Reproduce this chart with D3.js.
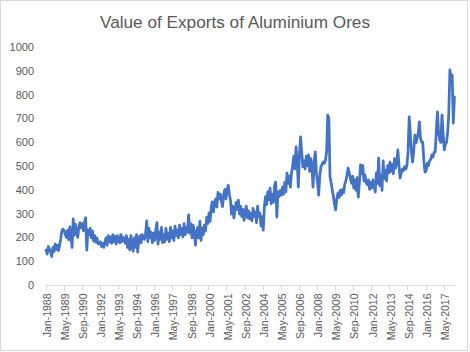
<!DOCTYPE html>
<html lang="en">
<head>
<meta charset="UTF-8">
<title>Value of Exports of Aluminium Ores</title>
<script src="https://d3js.org/d3.v7.min.js"></script>
<style>
  body { margin: 0; background: #fff; }
  text { font-family: "Liberation Sans", Arial, sans-serif; fill: #595959; }
</style>
</head>
<body>
<svg id="chart" width="470" height="352"></svg>
<script>
// monthly categories: Jan-1988 .. Feb-2018
const startYear = 1988;
const monthNames = ["Jan","Feb","Mar","Apr","May","Jun","Jul","Aug","Sep","Oct","Nov","Dec"];

// values, one row per year
const exports1988_1997 = [
  147, 130, 162, 150, 138, 120, 158, 140, 172, 150, 168, 145,
  168, 195, 228, 235, 230, 212, 200, 230, 190, 245, 200, 158,
  278, 210, 255, 225, 200, 245, 262, 240, 258, 228, 265, 283,
  147, 232, 212, 238, 198, 228, 185, 208, 180, 198, 172, 178,
  182, 162, 175, 158, 180, 198, 168, 208, 182, 202, 175, 212,
  182, 205, 172, 208, 188, 178, 212, 182, 202, 192, 175, 208,
  158, 192, 148, 208, 172, 142, 198, 158, 212, 138, 188, 208,
  178, 212, 198, 192, 218, 270, 182, 238, 198, 222, 178, 218,
  188, 232, 262, 172, 222, 192, 242, 178, 212, 182, 238, 192,
  218, 182, 242, 198, 228, 188, 248, 208, 232, 198, 252, 212
];
const exports1998_2007 = [
  238, 202, 258, 212, 242, 222, 295, 218, 258, 198, 252, 228,
  168, 218, 242, 198, 268, 188, 238, 212, 252, 228, 285, 258,
  302, 268, 328, 350, 308, 348, 362, 328, 390, 362, 382, 352,
  330, 382, 402, 362, 398, 420, 382, 358, 298, 332, 282, 312,
  348, 318, 357, 298, 332, 288, 318, 272, 308, 332, 282, 312,
  278, 302, 270, 322, 288, 308, 262, 332, 288, 302, 248, 288,
  231, 332, 372, 338, 392, 358, 408, 342, 382, 348, 418, 433,
  286, 392, 372, 398, 378, 412, 382, 432, 392, 471, 428, 458,
  412, 472, 502, 542, 488, 581, 518, 412, 552, 623, 558, 497,
  522, 488, 542, 502, 547, 478, 532, 498, 412, 522, 560, 468
];
const exports2008_2018 = [
  430, 378, 462, 497, 508, 518, 512, 525, 560, 715, 702, 455,
  430, 400, 372, 340, 316, 362, 387, 368, 398, 378, 402, 388,
  422, 438, 462, 492, 472, 448, 428, 458, 408, 442, 398, 452,
  370, 432, 505, 468, 502, 438, 462, 430, 422, 442, 402, 432,
  408, 442, 418, 391, 472, 428, 534, 418, 462, 398, 522, 448,
  482, 438, 502, 472, 517, 478, 508, 468, 532, 492, 512, 568,
  502, 450, 472, 488, 482, 498, 488, 502, 560, 707, 640, 558,
  517, 562, 631, 598, 618, 638, 686, 618, 602, 600, 520, 475,
  480, 512, 502, 522, 528, 547, 538, 558, 560, 650, 728, 640,
  610, 600, 715, 638, 568, 592, 600, 642, 720, 905, 870, 883,
  681, 791
];
const yTicks = [0, 100, 200, 300, 400, 500, 600, 700, 800, 900, 1000];
const tickLabels = ["Jan-1988","May-1989","Sep-1990","Jan-1992","May-1993","Sep-1994",
  "Jan-1996","May-1997","Sep-1998","Jan-2000","May-2001","Sep-2002","Jan-2004",
  "May-2005","Sep-2006","Jan-2008","May-2009","Sep-2010","Jan-2012","May-2013",
  "Sep-2014","Jan-2016","May-2017"];

const values = exports1988_1997.concat(exports1998_2007, exports2008_2018);
const categories = values.map((v, i) =>
  monthNames[i % 12] + "-" + (startYear + Math.floor(i / 12)));
const data = values.map((v, i) => ({cat: categories[i], value: v, i: i}));

const svg = d3.select("#chart");
const plot = {left: 45.5, right: 455, top: 47.3, bottom: 285};

// chart border
svg.append("rect")
  .attr("x", 0.5).attr("y", 0.5)
  .attr("width", 467).attr("height", 350)
  .attr("fill", "#fff").attr("stroke", "#d9d9d9");

const x = d3.scaleLinear().domain([0, data.length]).range([plot.left, plot.right]);
const y = d3.scaleLinear().domain([0, 1000]).range([plot.bottom, plot.top]);

// title, sized to the reference width
const title = svg.append("text")
  .attr("x", 235).attr("y", 28)
  .attr("text-anchor", "middle")
  .style("font-size", "17px")
  .text("Value of Exports of Aluminium Ores");
const tw = title.node().getComputedTextLength();
title.style("font-size", (17 * 270 / tw).toFixed(2) + "px");

// y axis labels (no line, no grid)
svg.append("g")
  .selectAll("text")
  .data(yTicks)
  .join("text")
    .attr("x", 34)
    .attr("y", d => y(d))
    .attr("dy", "0.35em")
    .attr("text-anchor", "end")
    .style("font-size", "11px")
    .text(d => d);

// x axis
const every = 16;
const tickIdx = tickLabels.map((t, k) => k * every);
const xAxis = svg.append("g")
  .attr("transform", `translate(0,${plot.bottom + 0.5})`);
xAxis.append("line")
  .attr("x1", plot.left).attr("x2", plot.right)
  .attr("stroke", "#d9d9d9");
xAxis.selectAll(".tick")
  .data(tickIdx)
  .join("line")
    .attr("class", "tick")
    .attr("x1", d => Math.round(x(d)) + 0.5)
    .attr("x2", d => Math.round(x(d)) + 0.5)
    .attr("y1", 0).attr("y2", 5)
    .attr("stroke", "#d9d9d9");
xAxis.selectAll(".lbl")
  .data(tickIdx)
  .join("text")
    .attr("class", "lbl")
    .attr("transform", d => `translate(${x(d + 0.5) + 1},8) rotate(-90)`)
    .attr("dy", "0.35em")
    .attr("text-anchor", "end")
    .style("font-size", "10.5px")
    .text((d, k) => tickLabels[k]);

// series line
const line = d3.line()
  .x(d => x(d.i + 0.5))
  .y(d => y(d.value));

svg.append("path")
  .datum(data)
  .attr("d", line)
  .attr("fill", "none")
  .attr("stroke", "#4472c4")
  .attr("stroke-width", 2.75)
  .attr("stroke-linejoin", "round")
  .attr("stroke-linecap", "round");
</script>
</body>
</html>
